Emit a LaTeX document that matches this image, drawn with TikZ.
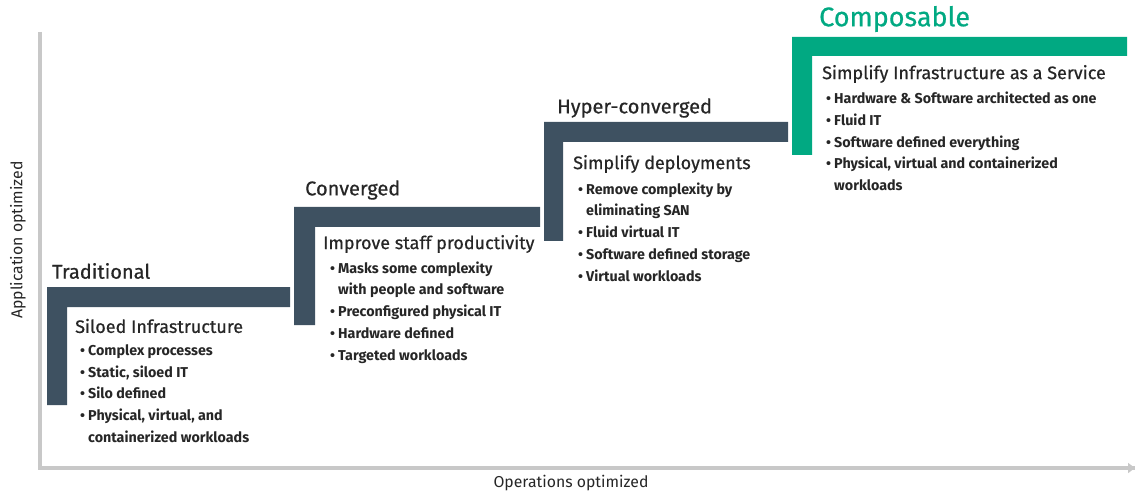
\documentclass[tikz,border=0pt]{standalone}
\usepackage{fontspec}
\setmainfont{Fira Sans}
\newfontfamily\medfont{Fira Sans}[FakeBold=0.6]
\usetikzlibrary{arrows.meta}
\definecolor{slate}{HTML}{3E5161}
\definecolor{hpegreen}{HTML}{01A982}
\definecolor{axisgray}{HTML}{C8C8C8}
\definecolor{txt}{HTML}{262626}
\newcommand{\bl}[1]{\makebox[8pt][l]{\textbullet}#1}
\newcommand{\cl}[1]{\hspace*{8pt}#1}
\tikzset{
  axisline/.style={draw=axisgray, line width=4pt},
  stagetitle/.style={anchor=west, inner sep=0pt, text=txt, font=\medfont\fontsize{20}{24}\selectfont},
  subtitle/.style={anchor=west, inner sep=0pt, text=txt, font=\medfont\fontsize{18}{21}\selectfont},
  bullets/.style={anchor=north west, inner sep=0pt, text=txt, align=left, font=\fontsize{14.3}{21.7}\selectfont\bfseries},
  axislabel/.style={inner sep=0pt, text=txt, font=\fontsize{15.8}{18}\selectfont}
}
\begin{document}
\begin{tikzpicture}[x=1pt,y=-1pt]
\useasboundingbox (0,0) rectangle (1137,494);
% axes
\coordinate (ytop) at (40,32);
\coordinate (origin) at (40,468);
\coordinate (xend) at (1135,468);
\draw[axisline] (ytop) -- (origin) -- (xend);
\draw[axisline, -{Triangle[length=7pt,width=10pt]}] (1120,468) -- (xend);
\node[axislabel, rotate=90] (ylab) at (18,240) {Application optimized};
\node[axislabel] (xlab) at (571,483) {Operations optimized};
% L-shapes
\fill[slate] (47,287) -- (290,287) -- (290,307) -- (67,307) -- (67,405) -- (47,405) -- cycle;
\fill[slate] (294,207) -- (540,207) -- (540,227) -- (315,227) -- (315,325) -- (294,325) -- cycle;
\fill[slate] (544,122) -- (788,122) -- (788,142) -- (563,142) -- (563,241) -- (544,241) -- cycle;
\fill[hpegreen] (792,37) -- (1127,37) -- (1127,56) -- (812,56) -- (812,155) -- (792,155) -- cycle;
% Traditional
\node[stagetitle] (t1) at (52,271) {Traditional};
\node[subtitle] (s1) at (75,326) {Siloed Infrastructure};
\node[bullets] (b1) at (80,344.5) {\bl{Complex processes}\\\bl{Static, siloed IT}\\\bl{Silo defined}\\\bl{Physical, virtual, and}\\\cl{containerized workloads}};
% Converged
\node[stagetitle] (t2) at (305,190) {Converged};
\node[subtitle] (s2) at (323,244) {Improve staff productivity};
\node[bullets] (b2) at (330,261.5) {\bl{Masks some complexity}\\\cl{with people and software}\\\bl{Preconfigured physical IT}\\\bl{Hardware defined}\\\bl{Targeted workloads}};
% Hyper-converged
\node[stagetitle] (t3) at (557,108) {Hyper-converged};
\node[subtitle] (s3) at (573,164) {Simplify deployments};
\node[bullets] (b3) at (578,182.5) {\bl{Remove complexity by}\\\cl{eliminating SAN}\\\bl{Fluid virtual IT}\\\bl{Software defined storage}\\\bl{Virtual workloads}};
% Composable
\node[stagetitle, text=hpegreen, font=\medfont\fontsize{27}{31}\selectfont] (t4) at (819,19) {Composable};
\node[subtitle] (s4) at (822,74) {Simplify Infrastructure as a Service};
\node[bullets] (b4) at (826,92) {\bl{Hardware \& Software architected as one}\\\bl{Fluid IT}\\\bl{Software defined everything}\\\bl{Physical, virtual and containerized}\\\cl{workloads}};
\end{tikzpicture}
\end{document}
